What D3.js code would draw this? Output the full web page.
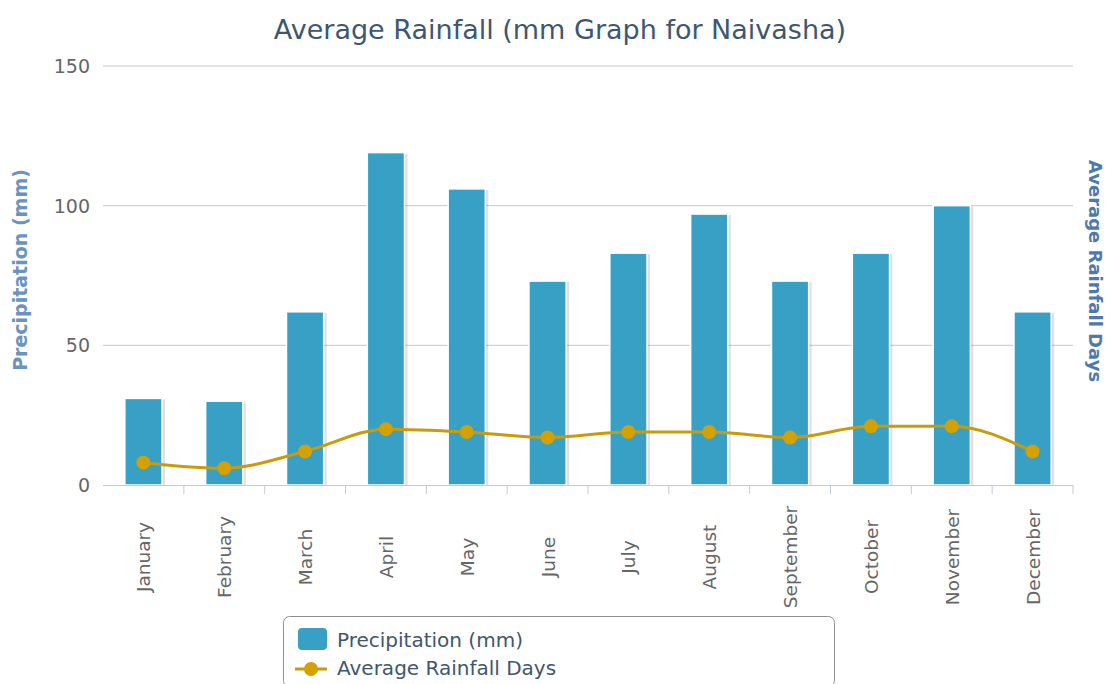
<!DOCTYPE html>
<html>
<head>
<meta http-equiv='Content-Type' content='text/html;charset=utf-8'/>
<title>Average Rainfall Naivasha</title>
<script src='https://d3js.org/d3.v7.min.js'></script>
<style>
	body { margin: 0; background: #fff; }
	text { font-family: 'DejaVu Sans', Verdana, sans-serif; }
</style>
</head>
<body>
<script>
'use strict'
// chart data
const months = ['January', 'February', 'March', 'April', 'May', 'June',
	'July', 'August', 'September', 'October', 'November', 'December']
const precipitation = [31, 30, 62, 119, 106, 73, 83, 97, 73, 83, 100, 62]
const rainDays = [8, 6, 12, 20, 19, 17, 19, 19, 17, 21, 21, 12]
const yTicks = [0, 50, 100, 150]

const width = 1112
const height = 684
const margin = {top: 66, right: 39, bottom: 199, left: 103}

const barColor = '#37a0c4'
const lineColor = '#c99b0c'
const dotColor = '#d4a100'

const svg = d3.select('body').append('svg')
	.attr('width', width)
	.attr('height', height)

const x = d3.scaleBand()
	.domain(months)
	.range([margin.left, width - margin.right])
	.paddingInner(0.54)
	.paddingOuter(0.27)

const xBand = d3.scaleBand()
	.domain(months)
	.range([margin.left, width - margin.right])

const y = d3.scaleLinear()
	.domain([0, 150])
	.range([height - margin.bottom, margin.top])

// second axis for rainfall days, drawn without labels
const y2 = d3.scaleLinear()
	.domain([0, 150])
	.range([height - margin.bottom, margin.top])

// title
svg.append('text')
	.attr('x', 560)
	.attr('y', 39)
	.attr('text-anchor', 'middle')
	.attr('fill', '#3e576f')
	.style('font-size', '27px')
	.text('Average Rainfall (mm Graph for Naivasha)')

// grid lines
svg.append('g')
	.selectAll('line')
	.data(yTicks.filter(d => d > 0))
	.join('line')
	.attr('x1', margin.left)
	.attr('x2', width - margin.right)
	.attr('y1', d => y(d))
	.attr('y2', d => y(d))
	.attr('stroke', '#c8c8c8')
	.attr('stroke-width', 1)

// left axis labels
svg.append('g')
	.selectAll('text')
	.data(yTicks)
	.join('text')
	.attr('x', 90)
	.attr('y', d => y(d) + 7)
	.attr('text-anchor', 'end')
	.attr('fill', '#666')
	.style('font-size', '19px')
	.text(d => d)

// axis titles
svg.append('text')
	.attr('transform', 'translate(27,' + 270 + ') rotate(-90)')
	.attr('text-anchor', 'middle')
	.attr('fill', '#6a93bf')
	.style('font-size', '19px')
	.style('font-weight', 'bold')
	.text('Precipitation (mm)')

svg.append('text')
	.attr('transform', 'translate(1089,' + 271 + ') rotate(90)')
	.attr('text-anchor', 'middle')
	.attr('fill', '#4f79ab')
	.style('font-size', '18px')
	.style('font-weight', 'bold')
	.text('Average Rainfall Days')

// bar shadows
svg.append('g')
	.selectAll('rect')
	.data(precipitation)
	.join('rect')
	.attr('x', (d, i) => x(months[i]) + 1)
	.attr('y', d => y(d) + 1)
	.attr('width', x.bandwidth() + 2)
	.attr('height', d => y(0) - y(d))
	.attr('fill', '#000')
	.attr('opacity', 0.12)

// bars
svg.append('g')
	.selectAll('rect')
	.data(precipitation)
	.join('rect')
	.attr('x', (d, i) => x(months[i]))
	.attr('y', d => y(d))
	.attr('width', x.bandwidth())
	.attr('height', d => y(0) - y(d))
	.attr('fill', barColor)
	.attr('stroke', '#fff')
	.attr('stroke-width', 1.5)

// x axis line and ticks
const axisG = svg.append('g')
axisG.append('line')
	.attr('x1', margin.left)
	.attr('x2', width - margin.right)
	.attr('y1', y(0) + 0.5)
	.attr('y2', y(0) + 0.5)
	.attr('stroke', '#c0cbd8')
axisG.selectAll('.tick')
	.data(months.slice(1).concat(['end']))
	.join('line')
	.attr('x1', (d, i) => i < 11 ? xBand(d) : width - margin.right)
	.attr('x2', (d, i) => i < 11 ? xBand(d) : width - margin.right)
	.attr('y1', y(0))
	.attr('y2', y(0) + 9)
	.attr('stroke', '#c0cbd8')

// x labels, centred on a common line
svg.append('g')
	.selectAll('text')
	.data(months)
	.join('text')
	.attr('transform', d => 'translate(' + (xBand(d) + xBand.bandwidth() / 2 + 7) + ',' + 557 + ') rotate(-90)')
	.attr('text-anchor', 'middle')
	.attr('fill', '#666')
	.style('font-size', '18.5px')
	.text(d => d)

// rainfall days line
const line = d3.line()
	.x((d, i) => xBand(months[i]) + xBand.bandwidth() / 2)
	.y(d => y2(d))
	.curve(d3.curveMonotoneX)

svg.append('path')
	.datum(rainDays)
	.attr('d', line)
	.attr('fill', 'none')
	.attr('stroke', lineColor)
	.attr('stroke-width', 3)

svg.append('g')
	.selectAll('circle')
	.data(rainDays)
	.join('circle')
	.attr('cx', (d, i) => xBand(months[i]) + xBand.bandwidth() / 2)
	.attr('cy', d => y2(d))
	.attr('r', 7)
	.attr('fill', dotColor)

// legend
const legend = svg.append('g')
legend.append('rect')
	.attr('x', 283.5)
	.attr('y', 616.5)
	.attr('width', 551)
	.attr('height', 70)
	.attr('rx', 6)
	.attr('fill', '#fff')
	.attr('stroke', '#909090')

legend.append('rect')
	.attr('x', 298)
	.attr('y', 628)
	.attr('width', 29)
	.attr('height', 22)
	.attr('rx', 4)
	.attr('fill', barColor)

legend.append('text')
	.attr('x', 337)
	.attr('y', 647)
	.attr('fill', '#3e576f')
	.style('font-size', '20px')
	.text('Precipitation (mm)')

legend.append('line')
	.attr('x1', 295)
	.attr('x2', 327)
	.attr('y1', 669)
	.attr('y2', 669)
	.attr('stroke', lineColor)
	.attr('stroke-width', 3)

legend.append('circle')
	.attr('cx', 311)
	.attr('cy', 669)
	.attr('r', 7)
	.attr('fill', dotColor)

legend.append('text')
	.attr('x', 337)
	.attr('y', 675)
	.attr('fill', '#3e576f')
	.style('font-size', '20px')
	.text('Average Rainfall Days')
</script>
</body>
</html>
